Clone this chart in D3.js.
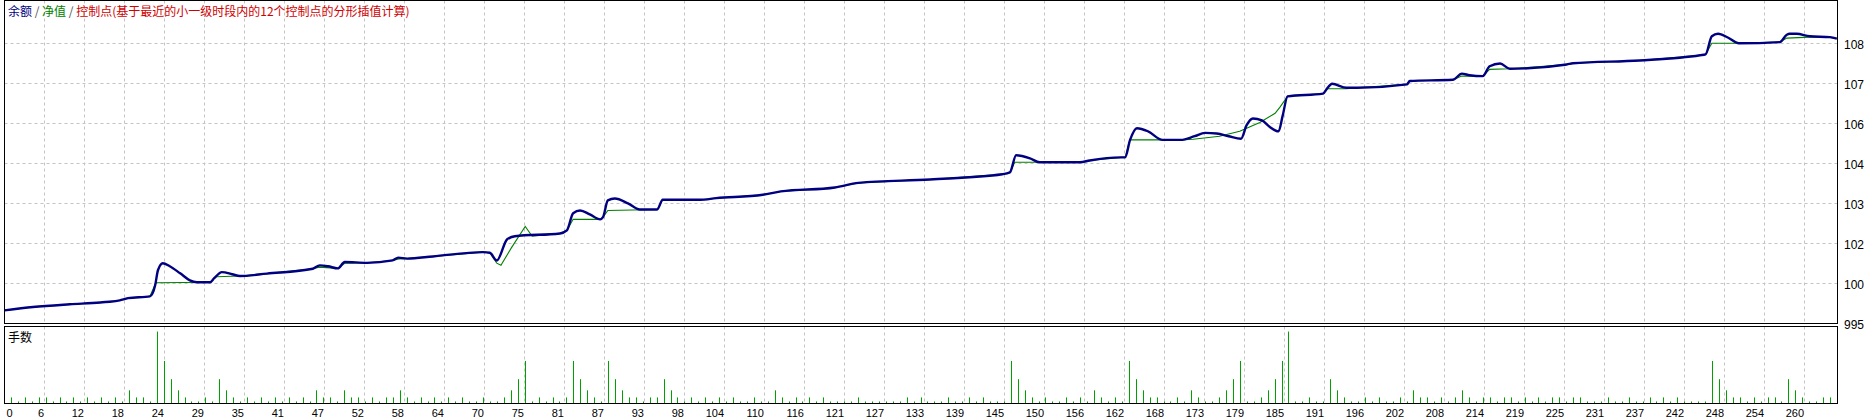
<!DOCTYPE html>
<html>
<head>
<meta charset="utf-8">
<script src="https://cdn.jsdelivr.net/npm/d3@7/dist/d3.min.js"></script>
<style>
  html, body { margin: 0; padding: 0; background: #fff; overflow: hidden; }
  svg { display: block; }
  text { font-family: 'Liberation Sans', 'Noto Sans CJK SC', sans-serif; }
</style>
</head>
<body>
<svg id="chart" width="1866" height="420"></svg>
<script>
/* global d3: false */

// balance line (trade number, account value)
const balanceTrades = [
  0, 4.1, 9.4, 13.8, 16.6, 17.8, 20.95, 21.7, 22.1, 22.8,
  23.8, 25.3, 26.7, 27.7, 29.6, 30.2, 31.3, 32.8, 33.9, 37.8,
  44.4, 45.4, 46.6, 48.0, 49.0, 52.2, 55.9, 56.7, 58.0, 61.7,
  68.9, 69.9, 70.9, 72.4, 73.5, 80.0, 81.0, 81.9, 82.9, 84.3,
  85.8, 86.2, 86.9, 87.9, 89.8, 91.5, 94.0, 94.8, 100.2, 102.5,
  109.2, 111.8, 119.6, 123, 133.3, 143.7, 144.8, 145.7, 147.7, 149.1,
  154.9, 156.3, 160.8, 161.4, 162.1, 163.1, 164.7, 166.8, 169.4, 171.4,
  172.9, 174.6, 176.3, 178.1, 178.9, 179.8, 181.1, 182.2, 183.5, 184.1,
  184.8, 189.9, 190.5, 191.2, 193.3, 194.8, 202, 202.4, 208.6, 209.9,
  211, 212.9, 213.9, 215.4, 216.8, 225, 225.9, 235.5, 244.2, 245,
  245.9, 246.8, 248.2, 249.8, 255.7, 256.7, 257.1, 258.1, 260, 262.9,
  263.9];
const balanceValues = [
  9996, 10007, 10016, 10022, 10029, 10036, 10042, 10078, 10127, 10150,
  10140, 10117, 10094, 10088, 10088, 10101, 10121, 10114, 10108, 10116,
  10132, 10143, 10140, 10133, 10154, 10151, 10159, 10168, 10165, 10172,
  10186, 10184, 10159, 10228, 10238, 10247, 10257, 10313, 10322, 10309,
  10293, 10300, 10355, 10361, 10345, 10325, 10325, 10357, 10357, 10362,
  10373, 10384, 10397, 10412, 10423, 10440, 10446, 10502, 10492, 10479,
  10479, 10485, 10495, 10495, 10551, 10590, 10580, 10552, 10552, 10564,
  10575, 10573, 10564, 10556, 10600, 10622, 10616, 10595, 10580, 10632,
  10694, 10703, 10720, 10735, 10722, 10722, 10733, 10744, 10748, 10768,
  10763, 10760, 10792, 10801, 10784, 10798, 10802, 10811, 10828, 10831,
  10890, 10898, 10886, 10867, 10871, 10895, 10898, 10898, 10890, 10887,
  10882];

// equity line
const equityTrades = [
  0, 4.1, 9.4, 13.8, 16.6, 17.8, 20.95, 21.8, 29.6, 30.5,
  33.9, 37.8, 44.4, 45.3, 48.0, 49.0, 52.2, 55.9, 56.8, 58.0,
  61.7, 68.9, 69.9, 70.9, 71.5, 73.0, 75.0, 76.0, 80.0, 81.0,
  81.9, 85.8, 86.2, 86.9, 94.0, 94.8, 100.2, 102.5, 109.2, 111.8,
  119.6, 123, 133.3, 143.7, 144.8, 145.5, 154.9, 156.3, 160.8, 161.4,
  162.1, 169.4, 171.2, 175, 177.9, 180.8, 183.0, 183.7, 184.8, 189.9,
  190.5, 193.3, 194.8, 202, 202.4, 208.6, 209.9, 212.9, 213.9, 216.8,
  225, 225.9, 235.5, 244.2, 245, 245.9, 249.8, 255.7, 256.7, 260,
  262.9, 263.9];
const equityValues = [
  9996, 10007, 10016, 10022, 10029, 10036, 10042, 10086, 10088, 10106,
  10108, 10116, 10132, 10137, 10133, 10150, 10151, 10159, 10164, 10165,
  10172, 10186, 10184, 10150, 10143, 10200, 10270, 10238, 10247, 10257,
  10293, 10293, 10300, 10322, 10325, 10357, 10357, 10362, 10373, 10384,
  10397, 10412, 10423, 10440, 10446, 10479, 10479, 10485, 10495, 10495,
  10552, 10552, 10554, 10564, 10580, 10609, 10639, 10659, 10694, 10703,
  10719, 10719, 10722, 10733, 10744, 10748, 10760, 10760, 10782, 10784,
  10798, 10802, 10811, 10828, 10831, 10867, 10867, 10871, 10884, 10887,
  10887, 10882];

// lot size of each trade, trades 1..263
const lots = [
  0.3, 0.1, 0.3, 0.1, 0.3, 0.3, 0.1, 0.3, 0.1, 0.3,
  0.1, 0.3, 0.1, 0.3, 0.1, 0.3, 0.1, 0.65, 0.3, 0.3,
  0.1, 3.55, 2.1, 1.2, 0.65, 0.3, 0.1, 0.1, 0.3, 0.1,
  1.2, 0.65, 0.3, 0.1, 0.3, 0.1, 0.3, 0.1, 0.3, 0.1,
  0.3, 0.1, 0.3, 0.1, 0.65, 0.3, 0.3, 0.1, 0.65, 0.3,
  0.3, 0.1, 0.3, 0.1, 0.3, 0.3, 0.65, 0.3, 0.1, 0.3,
  0.1, 0.3, 0.1, 0.3, 0.1, 0.3, 0.1, 0.1, 0.3, 0.1,
  0.1, 0.3, 0.65, 1.2, 2.1, 0.1, 0.3, 0.1, 0.3, 0.1,
  0.3, 2.1, 1.2, 0.65, 0.3, 0.1, 2.1, 1.2, 0.65, 0.3,
  0.3, 0.1, 0.3, 0.3, 1.2, 0.65, 0.3, 0.1, 0.3, 0.1,
  0.3, 0.1, 0.3, 0.1, 0.3, 0.1, 0.1, 0.3, 0.1, 0.1,
  0.65, 0.3, 0.1, 0.3, 0.1, 0.3, 0.1, 0.3, 0.1, 0.1,
  0.1, 0.1, 0.3, 0.1, 0.1, 0.1, 0.1, 0.1, 0.1, 0.3,
  0.1, 0.3, 0.1, 0.1, 0.1, 0.3, 0.1, 0.1, 0.3, 0.1,
  0.3, 0.1, 0.1, 0.1, 2.1, 1.2, 0.65, 0.3, 0.1, 0.3,
  0.1, 0.1, 0.3, 0.1, 0.3, 0.1, 0.65, 0.3, 0.1, 0.3,
  0.1, 2.1, 1.2, 0.65, 0.3, 0.3, 0.1, 0.1, 0.3, 0.1,
  0.65, 0.3, 0.1, 0.1, 0.3, 0.65, 1.2, 2.1, 0.1, 0.1,
  0.3, 0.65, 1.2, 2.1, 3.55, 0.1, 0.1, 0.3, 0.1, 0.1,
  1.2, 0.65, 0.3, 0.1, 0.1, 0.3, 0.1, 0.3, 0.1, 0.1,
  0.3, 0.1, 0.65, 0.3, 0.3, 0.1, 0.3, 0.1, 0.3, 0.65,
  0.3, 0.1, 0.3, 0.3, 0.1, 0.3, 0.3, 0.1, 0.3, 0.1,
  0.3, 0.1, 0.3, 0.3, 0.1, 0.3, 0.3, 0.1, 0.1, 0.1,
  0.3, 0.1, 0.1, 0.3, 0.1, 0.1, 0.3, 0.1, 0.3, 0.1,
  0.3, 0.1, 0.1, 0.1, 0.1, 2.1, 1.2, 0.65, 0.3, 0.3,
  0.1, 0.3, 0.1, 0.3, 0.3, 0.1, 1.2, 0.65, 0.3, 0.1,
  0.1, 0.3, 0.3];

const xTickLabels = [
  0, 6, 12, 18, 24, 29, 35, 41, 47, 52, 58, 64, 70, 75, 81, 87, 93, 98, 104,
  110, 116, 121, 127, 133, 139, 145, 150, 156, 162, 168, 173, 179, 185, 191,
  196, 202, 208, 214, 219, 225, 231, 237, 242, 248, 254, 260];
const yTickValues = [9954, 10084, 10215, 10345, 10476, 10606, 10737, 10867];
// the right-hand labels are cut by the picture edge, only these digits show
const yTickLabels = ['995', '100', '102', '103', '104', '106', '107', '108'];

const legendParts = [
  { text: '余额', color: '#000080' },
  { text: ' / ', color: '#505050' },
  { text: '净值', color: '#008000' },
  { text: ' / ', color: '#505050' },
  { text: '控制点(基于最近的小一级时段内的12个控制点的分形插值计算)', color: '#d00000' },
];

const left = 4.5;
const right = 1837.5;
const mainTop = 0.5;
const mainBottom = 323.5;
const lotTop = 326.5;
const lotBottom = 403.5;
const gridPx = 40;

const svg = d3.select('#chart');

const x = d3.scaleLinear().domain([0, 264]).range([left, right]);
const y = d3.scaleLinear()
  .domain([yTickValues[0], yTickValues[yTickValues.length - 1]])
  .range([mainBottom - 0.2, 43.3]);
const yLots = d3.scaleLinear().domain([0, 3.8]).range([lotBottom, lotTop]);

// vertical grid step, in trades
const gridStep = x.invert(left + gridPx) - x.invert(left);
const gridTrades = d3.range(1, xTickLabels.length).map(k => k * gridStep);

function crisp(v) {
  return Math.round(v - 0.5) + 0.5;
}

function drawVerticalGrid(top, bottom) {
  svg.append('g')
    .selectAll('line')
    .data(gridTrades)
    .enter()
    .append('line')
    .attr('x1', d => crisp(x(d)))
    .attr('x2', d => crisp(x(d)))
    .attr('y1', top)
    .attr('y2', bottom)
    .attr('stroke', '#c4c4c4')
    .attr('stroke-dasharray', '3,3');
}

// main panel grid
drawVerticalGrid(mainTop, mainBottom);
svg.append('g')
  .selectAll('line')
  .data(yTickValues.slice(1))
  .enter()
  .append('line')
  .attr('x1', left)
  .attr('x2', right)
  .attr('y1', d => crisp(y(d)))
  .attr('y2', d => crisp(y(d)))
  .attr('stroke', '#c4c4c4')
  .attr('stroke-dasharray', '3,3');

// lots panel grid
drawVerticalGrid(lotTop, lotBottom);

// equity under balance
const equityLine = d3.line()
  .x(d => x(d[0]))
  .y(d => y(d[1]));
svg.append('path')
  .datum(d3.zip(equityTrades, equityValues))
  .attr('d', equityLine)
  .attr('fill', 'none')
  .attr('stroke', '#008000')
  .attr('stroke-width', 1.1);

const balanceLine = d3.line()
  .x(d => x(d[0]))
  .y(d => y(d[1]))
  .curve(d3.curveMonotoneX);
svg.append('path')
  .datum(d3.zip(balanceTrades, balanceValues))
  .attr('d', balanceLine)
  .attr('fill', 'none')
  .attr('stroke', '#000080')
  .attr('stroke-width', 2.4)
  .attr('stroke-linejoin', 'round');

// lot bars
svg.append('g')
  .selectAll('line')
  .data(lots)
  .enter()
  .append('line')
  .attr('x1', (d, i) => crisp(x(i + 1)))
  .attr('x2', (d, i) => crisp(x(i + 1)))
  .attr('y1', lotBottom)
  .attr('y2', d => yLots(d))
  .attr('stroke', '#00a000')
  .attr('stroke-width', 1);

// frames
svg.append('rect')
  .attr('x', left).attr('y', mainTop)
  .attr('width', right - left).attr('height', mainBottom - mainTop)
  .attr('fill', 'none').attr('stroke', '#000');
svg.append('rect')
  .attr('x', left).attr('y', lotTop)
  .attr('width', right - left).attr('height', lotBottom - lotTop)
  .attr('fill', 'none').attr('stroke', '#000');

// legend
const legend = svg.append('text')
  .attr('x', 8)
  .attr('y', 16)
  .attr('font-size', 12)
  .style('font-family', "'Noto Sans CJK SC', sans-serif");
legendParts.forEach((p) => {
  legend.append('tspan')
    .attr('fill', p.color)
    .attr('xml:space', 'preserve')
    .text(p.text);
});

svg.append('text')
  .attr('x', 8)
  .attr('y', 342)
  .attr('font-size', 12)
  .attr('fill', '#000')
  .style('font-family', "'Noto Sans CJK SC', sans-serif")
  .text('手数');

// right value labels
svg.append('g')
  .selectAll('text')
  .data(yTickValues)
  .enter()
  .append('text')
  .attr('x', right + 6.5)
  .attr('y', d => y(d) + 6)
  .attr('font-size', 12)
  .attr('fill', '#000')
  .text((d, i) => yTickLabels[i]);

// bottom trade labels
svg.append('g')
  .selectAll('text')
  .data(xTickLabels)
  .enter()
  .append('text')
  .attr('x', (d, i) => (i === 0 ? left + 2 : x(i * gridStep) - 0.5))
  .attr('y', 417)
  .attr('text-anchor', (d, i) => (i === 0 ? 'start' : 'end'))
  .attr('font-size', 11)
  .attr('fill', '#000')
  .text(d => String(d));
</script>
</body>
</html>
